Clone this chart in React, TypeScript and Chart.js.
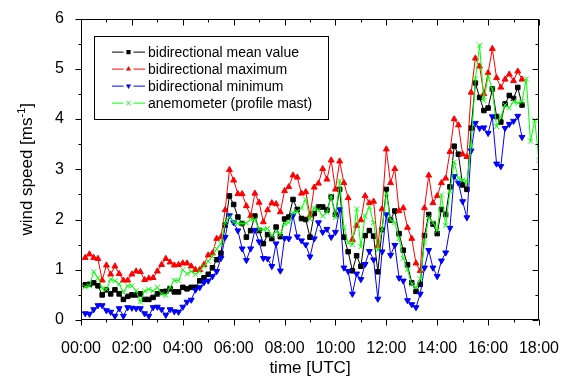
import React, { useEffect, useRef } from 'react';
import { Chart, registerables } from 'chart.js';

Chart.register(...registerables);

// time axis: first sample at 00:10, one sample every 10 minutes
const FIRST_MINUTE = 10;
const STEP_MINUTES = 10;

const seriesLabels = [
  'bidirectional mean value',
  'bidirectional maximum',
  'bidirectional minimum',
  'anemometer (profile mast)',
];

const meanValue = [
  0.70, 0.71, 0.74, 0.68, 0.50, 0.60, 0.52, 0.60, 0.52, 0.41,
  0.47, 0.50, 0.50, 0.52, 0.41, 0.41, 0.45, 0.52, 0.56, 0.57,
  0.62, 0.56, 0.56, 0.65, 0.62, 0.65, 0.65, 0.78, 0.84, 0.91,
  1.04, 1.20, 1.33, 1.89, 2.47, 2.30, 2.05, 1.92, 1.65, 1.78,
  2.07, 1.78, 1.52, 1.70, 1.62, 1.85, 1.66, 2.01, 2.05, 2.40,
  2.20, 2.02, 2.00, 1.65, 2.12, 2.25, 2.25, 2.19, 2.45, 2.10,
  2.60, 1.65, 1.36, 0.98, 1.28, 1.07, 1.68, 1.78, 1.67, 0.96,
  1.80, 2.60, 1.99, 2.17, 1.72, 1.39, 1.10, 0.74, 0.57, 0.71,
  1.68, 2.10, 1.91, 1.72, 2.20, 2.10, 2.65, 3.46, 3.30, 2.69,
  2.60, 3.82, 4.72, 4.43, 4.17, 4.22, 4.60, 4.05, 3.94, 4.30,
  4.47, 4.41, 4.63, 4.28,
];

const maximum = [
  1.24, 1.31, 1.24, 1.22, 0.79, 1.09, 0.91, 1.07, 0.92, 0.79,
  0.79, 0.91, 0.97, 0.96, 0.80, 0.83, 0.84, 0.97, 1.10, 1.22,
  1.15, 1.09, 1.10, 1.13, 1.13, 1.07, 1.00, 1.00, 1.10, 1.29,
  1.33, 1.62, 1.65, 2.19, 2.99, 2.78, 2.51, 2.51, 2.27, 2.07,
  2.52, 2.34, 1.95, 2.19, 2.33, 2.31, 2.15, 2.57, 2.65, 2.88,
  2.84, 2.52, 2.55, 2.08, 2.64, 2.72, 3.01, 2.80, 3.18, 2.60,
  3.16, 2.73, 2.43, 1.60, 1.88, 1.99, 2.47, 2.33, 2.36, 1.48,
  2.21, 3.40, 2.73, 3.01, 2.17, 2.23, 1.84, 1.62, 1.13, 0.98,
  2.23, 2.88, 2.33, 2.47, 2.73, 2.82, 3.35, 4.00, 3.88, 3.30,
  3.25, 4.53, 5.21, 5.05, 4.50, 4.92, 5.40, 4.82, 4.63, 4.79,
  4.89, 4.76, 4.95, 4.79,
];

const minimum = [
  0.13, 0.12, 0.21, 0.29, 0.29, 0.19, 0.16, 0.08, 0.23, 0.08,
  0.25, 0.24, 0.23, 0.23, 0.13, 0.08, 0.25, 0.26, 0.21, 0.10,
  0.21, 0.17, 0.16, 0.26, 0.36, 0.40, 0.60, 0.65, 0.75, 0.78,
  0.87, 0.97, 1.23, 1.65, 2.08, 1.94, 1.78, 1.42, 1.19, 1.42,
  1.79, 1.56, 1.23, 1.22, 1.07, 1.52, 0.98, 1.63, 1.62, 2.08,
  1.66, 1.58, 1.50, 1.26, 1.62, 1.94, 1.75, 1.81, 1.65, 1.75,
  2.20, 1.04, 0.97, 0.52, 0.92, 0.81, 1.11, 1.37, 1.20, 0.42,
  1.36, 2.10, 1.29, 1.49, 0.84, 0.78, 0.39, 0.31, 0.25, 0.52,
  1.04, 1.39, 1.04, 0.87, 1.18, 1.34, 1.83, 2.86, 2.73, 2.36,
  2.04, 3.37, 3.92, 3.82, 3.83, 3.72, 4.05, 3.11, 3.06, 3.82,
  3.90, 3.96, 4.06, 3.64,
];

const anemometer = [
  0.66, 0.68, 0.96, 0.84, 0.63, 0.61, 0.81, 0.78, 0.72, 0.55,
  0.68, 0.68, 0.58, 0.36, 0.58, 0.61, 0.58, 0.65, 0.52, 0.49,
  0.65, 0.79, 0.78, 1.00, 0.92, 0.97, 0.91, 0.97, 1.07, 1.17,
  1.26, 1.42, 1.52, 1.94, 2.05, 1.95, 1.92, 1.92, 1.93, 2.00,
  2.00, 1.80, 1.80, 1.82, 1.68, 1.76, 1.70, 1.92, 1.94, 2.14,
  2.16, 2.23, 2.40, 2.01, 2.23, 2.19, 2.07, 2.14, 2.47, 2.04,
  2.77, 1.84, 1.54, 1.50, 2.21, 1.46, 2.07, 2.25, 1.94, 1.39,
  1.81, 2.52, 1.99, 1.94, 1.62, 1.23, 1.00, 0.71, 0.65, 0.82,
  1.55, 2.04, 1.94, 1.78, 2.49, 1.88, 2.56, 3.14, 2.82, 2.78,
  2.75, 3.46, 4.80, 5.47, 4.37, 4.85, 4.60, 3.85, 4.05, 4.28,
  4.22, 4.35, 4.32, 4.35, 4.80, 3.56, 3.98, 3.18,
];

const xTickHours = [0, 2, 4, 6, 8, 10, 12, 14, 16, 18];
const xMinorHours = [1, 3, 5, 7, 9, 11, 13, 15, 17];
const yTickValues = [0, 1, 2, 3, 4, 5, 6];
const yMinorValues = [0.5, 1.5, 2.5, 3.5, 4.5, 5.5];

const X_TITLE = 'time [UTC]';
const Y_TITLE_MAIN = 'wind speed [ms';
const Y_TITLE_SUP = '-1';
const Y_TITLE_END = ']';

const FONT = '"Liberation Sans", Arial, Helvetica, sans-serif';

function toPoints(values: number[]) {
  return values.map((v, k) => ({ x: (FIRST_MINUTE + k * STEP_MINUTES) / 60, y: v }));
}

function fmtHour(h: number) {
  return String(h).padStart(2, '0') + ':00';
}

function drawMarker(ctx: CanvasRenderingContext2D, style: string, rot: number, r: number, x: number, y: number, color: string) {
  ctx.save();
  ctx.fillStyle = color;
  ctx.strokeStyle = color;
  ctx.lineWidth = 1;
  ctx.beginPath();
  if (style === 'rect') {
    const s = r * Math.SQRT1_2;
    ctx.rect(x - s, y - s, 2 * s, 2 * s);
    ctx.fill();
  } else if (style === 'triangle') {
    const rad = (rot * Math.PI) / 180;
    for (let k = 0; k < 3; k++) {
      const a = rad - Math.PI / 2 + (k * 2 * Math.PI) / 3;
      const px = x + Math.cos(a) * r;
      const py = y + Math.sin(a) * r;
      if (k === 0) ctx.moveTo(px, py);
      else ctx.lineTo(px, py);
    }
    ctx.closePath();
    ctx.fill();
  } else {
    const o = r * Math.SQRT1_2;
    ctx.moveTo(x - o, y - o);
    ctx.lineTo(x + o, y + o);
    ctx.moveTo(x - o, y + o);
    ctx.lineTo(x + o, y - o);
    ctx.stroke();
  }
  ctx.restore();
}

const decorPlugin = {
  id: 'decor',
  afterDatasetsDraw(chart: any) {
    const { ctx, chartArea: a, scales } = chart;
    const xs = scales.x;
    const ys = scales.y;
    ctx.save();
    ctx.strokeStyle = '#000';
    ctx.lineWidth = 1;
    const L = Math.round(a.left) + 0.5;
    const R = Math.round(a.right) - 0.5;
    const T = Math.round(a.top) + 0.5;
    const B = Math.round(a.bottom) - 0.5;
    ctx.strokeRect(L, T, R - L, B - T);

    ctx.beginPath();
    const xTick = (h: number, len: number) => {
      const px = Math.round(xs.getPixelForValue(h)) + 0.5;
      ctx.moveTo(px, B);
      ctx.lineTo(px, B + len);
      ctx.moveTo(px, T);
      ctx.lineTo(px, T + len);
    };
    const yTick = (v: number, len: number) => {
      const py = Math.round(ys.getPixelForValue(v)) + 0.5;
      ctx.moveTo(L, py);
      ctx.lineTo(L - len, py);
      ctx.moveTo(R, py);
      ctx.lineTo(R - len, py);
    };
    xTickHours.forEach((h) => xTick(h, 6));
    xMinorHours.forEach((h) => xTick(h, 3));
    yTickValues.forEach((v) => yTick(v, 6));
    yMinorValues.forEach((v) => yTick(v, 3));
    ctx.stroke();

    // axis titles
    ctx.fillStyle = '#000';
    ctx.font = `17px ${FONT}`;
    ctx.textAlign = 'center';
    ctx.textBaseline = 'alphabetic';
    ctx.fillText(X_TITLE, (a.left + a.right) / 2, 373);

    ctx.save();
    ctx.translate(32, (a.top + a.bottom) / 2);
    ctx.rotate(-Math.PI / 2);
    ctx.textAlign = 'left';
    ctx.font = `17px ${FONT}`;
    const w1 = ctx.measureText(Y_TITLE_MAIN).width;
    const w3 = ctx.measureText(Y_TITLE_END).width;
    ctx.font = `11px ${FONT}`;
    const w2 = ctx.measureText(Y_TITLE_SUP).width;
    let sx = -(w1 + w2 + w3) / 2;
    ctx.font = `17px ${FONT}`;
    ctx.fillText(Y_TITLE_MAIN, sx, 0);
    sx += w1;
    ctx.font = `11px ${FONT}`;
    ctx.fillText(Y_TITLE_SUP, sx, -7);
    sx += w2;
    ctx.font = `17px ${FONT}`;
    ctx.fillText(Y_TITLE_END, sx, 0);
    ctx.restore();

    // legend
    const lx = a.left + 13;
    const ly = a.top + 17;
    ctx.fillStyle = '#fff';
    ctx.fillRect(lx, ly, 234, 83);
    ctx.strokeStyle = '#000';
    ctx.strokeRect(Math.round(lx) + 0.5, Math.round(ly) + 0.5, 234, 83);
    ctx.font = `14px ${FONT}`;
    ctx.textAlign = 'left';
    ctx.textBaseline = 'middle';
    chart.data.datasets.forEach((ds: any, k: number) => {
      const ry = ly + 16.5 + k * 17;
      const x0 = lx + 18;
      const x1 = lx + 51;
      const xm = (x0 + x1) / 2;
      ctx.strokeStyle = ds.borderColor;
      ctx.lineWidth = 1;
      ctx.beginPath();
      ctx.moveTo(x0, ry);
      ctx.lineTo(xm - 5, ry);
      ctx.moveTo(xm + 5, ry);
      ctx.lineTo(x1, ry);
      ctx.stroke();
      drawMarker(ctx, ds.pointStyle, ds.pointRotation || 0, 3, xm, ry, ds.borderColor);
      ctx.fillStyle = '#000';
      ctx.fillText(ds.label, lx + 54, ry + 1);
    });
    ctx.restore();
  },
};

export default function App() {
  const ref = useRef<HTMLCanvasElement | null>(null);
  useEffect(() => {
    if (!ref.current) return;
    const mk = (label: string, values: number[], color: string, style: string, radius: number, rotation: number, order: number) => ({
      label,
      data: toPoints(values),
      borderColor: color,
      backgroundColor: color,
      borderWidth: 1,
      pointStyle: style,
      pointRadius: radius,
      pointRotation: rotation,
      pointBorderWidth: 1,
      pointBackgroundColor: color,
      pointBorderColor: color,
      tension: 0,
      order,
    });
    const chart = new Chart(ref.current, {
      type: 'line',
      data: {
        datasets: [
          mk(seriesLabels[0], meanValue, '#000000', 'rect', 3.2, 0, 4),
          mk(seriesLabels[1], maximum, '#ff0000', 'triangle', 3.4, 0, 3),
          mk(seriesLabels[2], minimum, '#0000ff', 'triangle', 3.4, 180, 2),
          mk(seriesLabels[3], anemometer, '#00ff00', 'crossRot', 3.5, 0, 1),
        ] as any,
      },
      options: {
        animation: false,
        responsive: false,
        devicePixelRatio: 1,
        layout: { padding: { top: 11, right: 27, left: 0, bottom: 0 } },
        plugins: { legend: { display: false }, tooltip: { enabled: false } },
        scales: {
          x: {
            type: 'linear',
            min: 0,
            max: 18,
            afterBuildTicks: (s: any) => {
              s.ticks = xTickHours.map((v) => ({ value: v }));
            },
            afterFit: (s: any) => {
              s.height = 61;
            },
            ticks: {
              callback: (v: any) => fmtHour(Number(v)),
              font: { family: FONT, size: 16 },
              color: '#000',
              padding: 11,
              maxRotation: 0,
              autoSkip: false,
            },
            grid: { display: false },
            border: { display: false },
          },
          y: {
            min: 0,
            max: 6,
            afterBuildTicks: (s: any) => {
              s.ticks = yTickValues.map((v) => ({ value: v }));
            },
            afterFit: (s: any) => {
              s.width = 81;
            },
            ticks: {
              font: { family: FONT, size: 16 },
              color: '#000',
              padding: 9,
            },
            grid: { display: false },
            border: { display: false },
          },
        },
      } as any,
      plugins: [decorPlugin],
    });
    return () => chart.destroy();
  }, []);
  return (
    <div style={{ position: 'fixed', left: 0, top: 0, width: 570, height: 381, background: '#fff' }}>
      <canvas ref={ref} width={570} height={381} style={{ display: 'block' }} />
    </div>
  );
}
